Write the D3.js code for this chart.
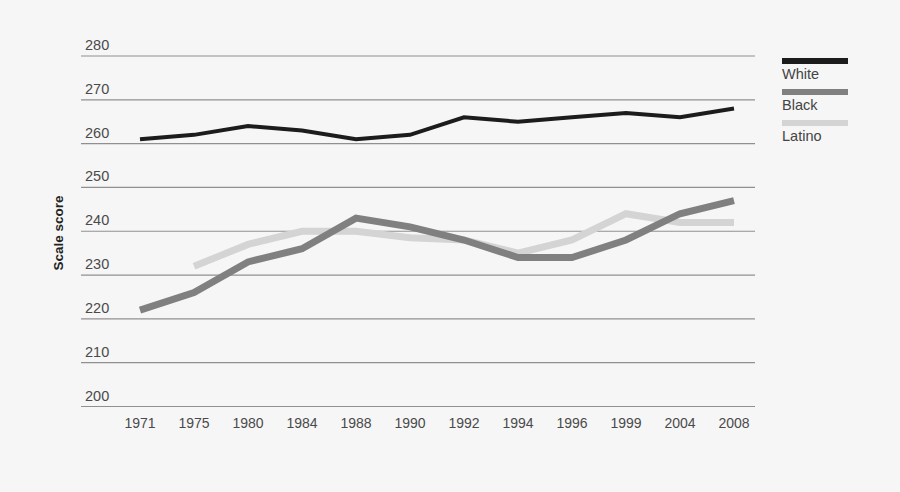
<!DOCTYPE html>
<html><head><meta charset="utf-8">
<script src="https://cdn.jsdelivr.net/npm/d3@7"></script>
<style>body{margin:0;background:#f6f6f6;}svg{display:block;font-family:"Liberation Sans",Arial,sans-serif;}</style>
</head><body><svg id="c" width="900" height="492"></svg>
<script>
const years = ["1971","1975","1980","1984","1988","1990","1992","1994","1996","1999","2004","2008"];
const white = [261,262,264,263,261,262,266,265,266,267,266,268];
const black = [222,226,233,236,243,241,238,234,234,238,244,247];
const latino = [null,232,237,240,240,238.5,238,235,238,244,242,242];
const yTicks = [200,210,220,230,240,250,260,270,280];
const seriesNames = ["White","Black","Latino"];

const svg = d3.select("#c");
svg.append("rect").attr("width",900).attr("height",492).attr("fill","#f6f6f6");
const x = d3.scalePoint().domain(years).range([140,734]);
const y = d3.scaleLinear().domain([200,280]).range([406.5,56]);

const g = svg.append("g");
yTicks.forEach(t=>{
  g.append("line").attr("x1",81).attr("x2",755).attr("y1",y(t)).attr("y2",y(t))
   .attr("stroke","#909090").attr("stroke-width",1.2);
  g.append("text").attr("x",85).attr("y",y(t)-6).text(t)
   .attr("font-size",14.5).attr("fill","#4a4a4a");
});
years.forEach(yr=>{
  g.append("text").attr("x",x(yr)).attr("y",428).attr("text-anchor","middle")
   .attr("font-size",14).attr("fill","#4a4a4a").text(yr);
});
svg.append("text").attr("transform","translate(63,233) rotate(-90)")
  .attr("text-anchor","middle").attr("font-size",13.5).attr("fill","#222").attr("font-weight","bold").text("Scale score");

const data = [
  {name:seriesNames[0], vals:white, color:"#1c1c1c", w:4},
  {name:seriesNames[1], vals:black, color:"#808080", w:7},
  {name:seriesNames[2], vals:latino, color:"#d4d4d4", w:7}
];
const line = d3.line().defined(d=>d.v!=null).x(d=>x(d.yr)).y(d=>y(d.v));
[data[2],data[1],data[0]].forEach(s=>{
  svg.append("path").datum(years.map((yr,i)=>({yr,v:s.vals[i]})))
    .attr("d",line).attr("fill","none").attr("stroke",s.color)
    .attr("stroke-width",s.w).attr("stroke-linejoin","miter");
});
// legend
const legY=[61,92,123];
data.forEach((s,i)=>{
  svg.append("rect").attr("x",782).attr("y",legY[i]-3).attr("width",66).attr("height",6).attr("fill",s.color);
  svg.append("text").attr("x",782).attr("y",legY[i]+18).attr("font-size",14.5).attr("fill","#444").text(s.name);
});
</script></body></html>
